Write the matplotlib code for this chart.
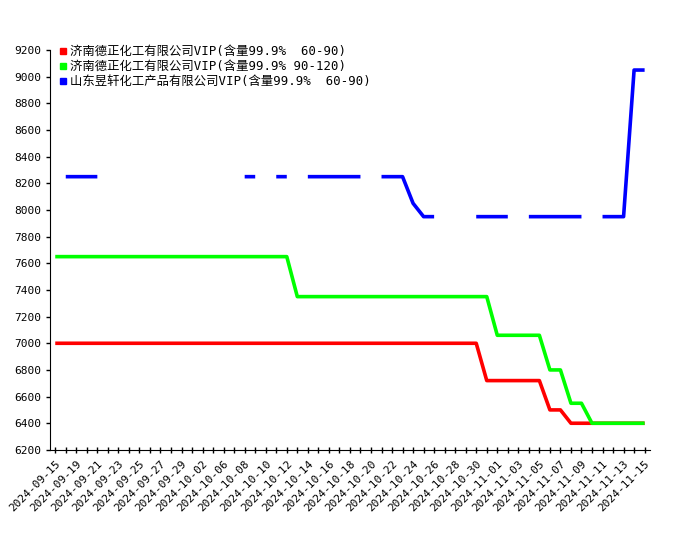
import numpy as np
import matplotlib
matplotlib.use('Agg')
import matplotlib.pyplot as plt
from matplotlib.lines import Line2D

plt.rcParams['font.family'] = ['DejaVu Sans Mono', 'Noto Sans CJK SC']

nan = np.nan

dates = ['2024-09-15', '2024-09-18'] + \
        ['2024-09-%02d' % d for d in range(19, 31)] + \
        ['2024-10-02', '2024-10-05'] + \
        ['2024-10-%02d' % d for d in range(6, 32)] + \
        ['2024-11-%02d' % d for d in range(1, 16)]

# 济南德正 60-90
red = [7000] * 41 + [6720] * 6 + [6500, 6500] + [6400] * 8

# 济南德正 90-120
green = [7650] * 23 + [7350] * 19 + [7060] * 5 + [6800, 6800, 6550, 6550] + [6400] * 6

# 山东昱轩 60-90
blue = [nan, 8250, 8250, 8250, 8250] + [nan] * 13 + [8250, 8250, nan, 8250, 8250, nan] + \
       [8250] * 6 + [nan] + [8250, 8250, 8250, 8050, 7950, 7950] + [nan] * 3 + \
       [7950] * 4 + [nan] + [7950] * 6 + [nan] + [7950] * 3 + [9050, 9050]

labels = ['济南德正化工有限公司VIP(含量99.9%  60-90)',
          '济南德正化工有限公司VIP(含量99.9% 90-120)',
          '山东昱轩化工产品有限公司VIP(含量99.9%  60-90)']
colors = ['#ff0000', '#00ff00', '#0000ff']

fig = plt.figure(figsize=(7, 5.5), dpi=100)
ax = fig.add_axes([0.0714, 0.182, 0.857, 0.727])

x = np.arange(len(dates))
for series, c in zip([red, green, blue], colors):
    ax.plot(x, series, color=c, linewidth=2.6, solid_capstyle='butt')

ax.set_xlim(-0.5, len(dates) - 0.5)
ax.set_ylim(6200, 9200)
ax.set_yticks(np.arange(6200, 9201, 200))
ax.set_xticks(x)
ax.set_xticklabels([d if i % 2 == 0 else '' for i, d in enumerate(dates)],
                   rotation=45, ha='right', rotation_mode='anchor', fontsize=8)
ax.tick_params(axis='x', direction='inout', length=5, width=1)
ax.tick_params(axis='y', direction='out', length=3, width=1, labelsize=8)
ax.spines['top'].set_visible(False)
ax.spines['right'].set_visible(False)

handles = [Line2D([], [], marker='s', linestyle='none', color=c, markersize=5) for c in colors]
ax.legend(handles, labels, loc='upper left', bbox_to_anchor=(0.012, 1.018),
          frameon=False, fontsize=8.9,
          handlelength=0.6, handletextpad=0.2, labelspacing=0.15,
          borderaxespad=0.0, borderpad=0.2)

fig.savefig('out.png', dpi=100)
